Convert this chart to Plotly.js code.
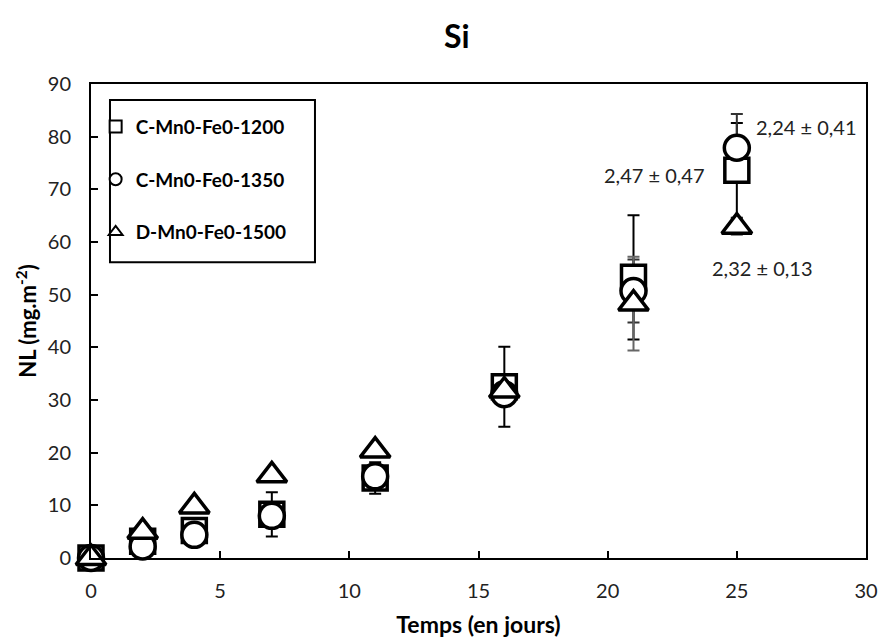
<!DOCTYPE html>
<html>
<head>
<meta charset="utf-8">
<script src="https://cdn.plot.ly/plotly-3.0.1.min.js"></script>
<style>html,body{margin:0;padding:0;background:#fff}#chart{width:882px;height:641px}</style>
</head>
<body>
<div id="chart"></div>
<script>
// Data
const days = [0, 2, 4, 7, 11, 16, 21, 25];
const seriesNames = ["C-Mn0-Fe0-1200", "C-Mn0-Fe0-1350", "D-Mn0-Fe0-1500"];
const nl1200 = [0, 3.2, 5.2, 8.3, 15.2, 32.5, 53.3, 73.6];
const err1200 = [0, 1.0, 1.0, 4.2, 3.0, 7.6, 11.8, 9.0];
const nl1350 = [0, 2.2, 4.4, 8.0, 15.5, 31.1, 50.7, 77.9];
const err1350 = [0, 0.5, 0.5, 1.0, 1.0, 1.5, 6.0, 6.4];
const nl1500 = [0, 5.0, 9.8, 15.7, 20.4, 31.8, 48.3, 62.9];
const err1500 = [0, 0.5, 0.5, 1.0, 1.0, 1.0, 8.9, 1.5];
const xTicks = [0, 5, 10, 15, 20, 25, 30];
const yTicks = [0, 10, 20, 30, 40, 50, 60, 70, 80, 90];
const notes = [
  {text: "2,24 ± 0,41", x: 27.7, y: 81.8},
  {text: "2,47 ± 0,47", x: 21.8, y: 72.7},
  {text: "2,32 ± 0,13", x: 26.0, y: 55.1}
];

const FONT = "Lato, 'Open Sans', sans-serif";

// error bars first (drawn beneath all markers)
function errTrace(y, err, ecol) {
  return {
    type: "scatter", mode: "markers", x: days, y: y, showlegend: false,
    hoverinfo: "skip", cliponaxis: false,
    marker: {size: 1, opacity: 0},
    error_y: {type: "data", array: err, visible: true, color: ecol, thickness: 2, width: 6}
  };
}
function mk(name, y, symbol, size, group) {
  return {
    type: "scatter", mode: "markers", name: name, x: days, y: y,
    legendgroup: group,
    cliponaxis: false,
    marker: {symbol: symbol, size: size, color: "#fff",
             line: {color: "#000", width: 3.5}}
  };
}

const traces = [
  errTrace(nl1200, err1200, "#000"),
  errTrace(nl1350, err1350, "#333"),
  errTrace(nl1500, err1500, "#666"),
  mk(seriesNames[0], nl1200, "square", 24, "a"),
  mk(seriesNames[1], nl1350, "circle", 25, "b"),
  mk(seriesNames[2], nl1500, "triangle-up", 26, "c")
];

const annotations = notes.map(n => ({
  text: n.text, x: n.x, y: n.y, xref: "x", yref: "y", showarrow: false,
  font: {family: FONT, size: 20, color: "#222"}
}));

const layout = {
  width: 882, height: 641,
  margin: {l: 91, r: 16, t: 84, b: 83},
  paper_bgcolor: "#fff", plot_bgcolor: "#fff",
  showlegend: true,
  title: {text: "<b>Si</b>", x: 0.518, xref: "container", y: 0.942, yref: "container",
          xanchor: "center", yanchor: "middle",
          font: {family: FONT, size: 32, color: "#000"}},
  xaxis: {
    range: [0, 30], tickvals: xTicks, ticktext: xTicks.map(String),
    showgrid: false, zeroline: false, showline: true, linecolor: "#000", linewidth: 2,
    mirror: true, ticks: "inside", ticklen: 7, tickwidth: 2, tickcolor: "#000",
    ticklabelstandoff: 14,
    tickfont: {family: FONT, size: 20, color: "#222"},
    title: {text: "<b>Temps (en jours)</b>", standoff: 16, font: {family: FONT, size: 23, color: "#000"}}
  },
  yaxis: {
    range: [0, 90], tickvals: yTicks, ticktext: yTicks.map(String),
    showgrid: false, zeroline: false, showline: true, linecolor: "#000", linewidth: 2,
    mirror: true, ticks: "inside", ticklen: 7, tickwidth: 2, tickcolor: "#000",
    ticklabelstandoff: 14,
    tickfont: {family: FONT, size: 20, color: "#222"},
    title: {text: "<b>NL (mg.m<sup>-2</sup>)</b>", standoff: 5, font: {family: FONT, size: 22, color: "#000"}}
  },
  legend: {
    x: 0.006, y: 0.95, xanchor: "left", yanchor: "top",
    bgcolor: "rgba(0,0,0,0)", borderwidth: 0,
    tracegroupgap: 25, itemsizing: "constant",
    font: {family: FONT, size: 19, color: "#000", weight: "bold"}
  },
  shapes: [{
    type: "rect", xref: "paper", yref: "paper",
    x0: 0.0245, x1: 0.289, y0: 0.624, y1: 0.966,
    line: {color: "#000", width: 2}, fillcolor: "rgba(0,0,0,0)"
  }],
  annotations: annotations
};

Plotly.newPlot("chart", traces, layout, {displayModeBar: false, staticPlot: true});
</script>
</body>
</html>
